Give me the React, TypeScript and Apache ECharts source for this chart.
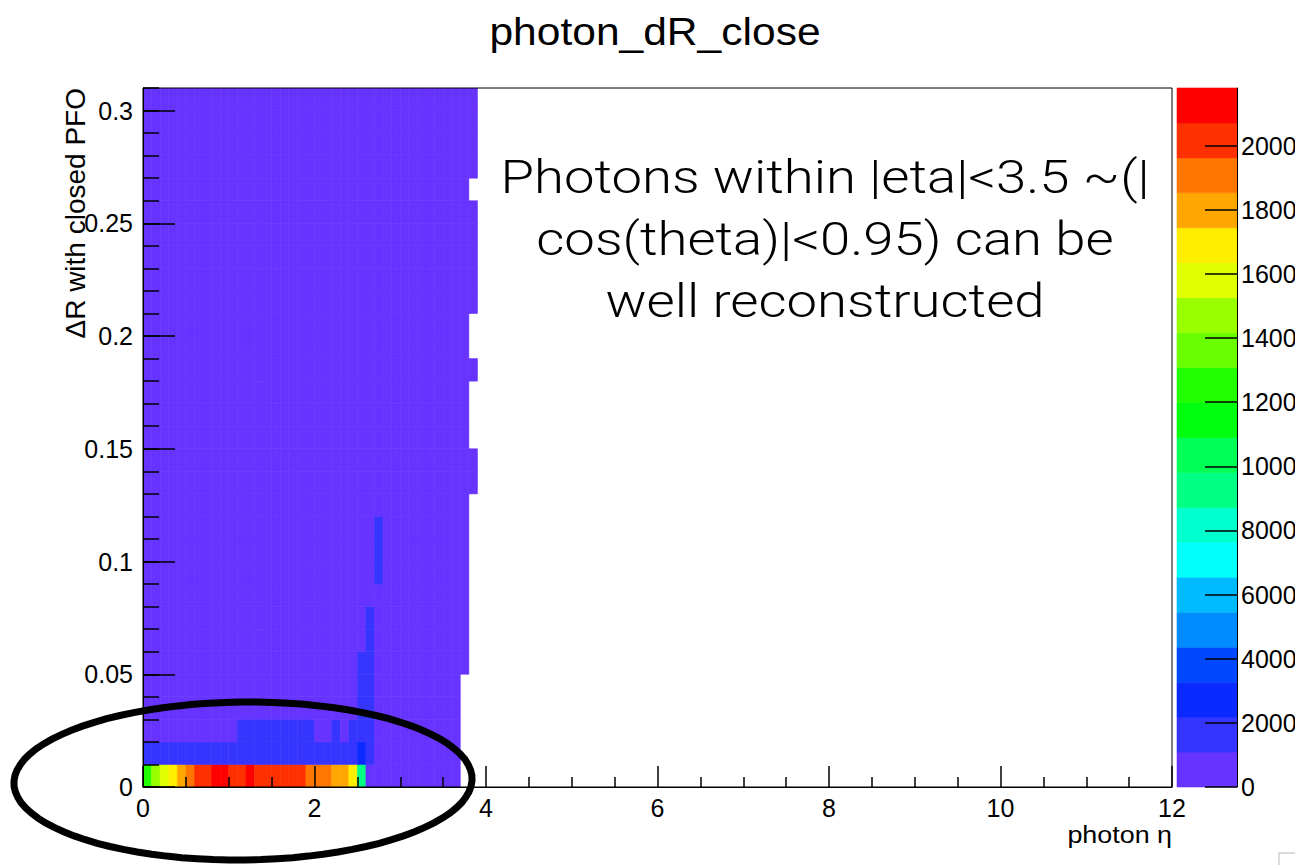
import React, { useEffect, useRef } from "react";
import * as echarts from "echarts";

// ---------------- data ----------------
const etaBinWidth = 0.1;
const dRBinWidth = 0.01;
const etaMax = 12;
const dRMax = 0.31;
const zMax = 21800;
const nContours = 20;

const xTickLabels = [0, 2, 4, 6, 8, 10, 12];
const yTickLabels = [0, 0.05, 0.1, 0.15, 0.2, 0.25, 0.3];
const colorbarTicks = [0, 2000, 4000, 6000, 8000, 10000, 12000, 14000, 16000, 18000, 20000];

// number of filled eta bins in each ΔR row (row 0 = 0–0.01 ... row 30 = 0.30–0.31)
const rowFilledBins = [
  37, 37, 37, 37, 37, 38, 38, 38, 38, 38, 38, 38, 38, 39, 39, 38,
  38, 38, 39, 38, 38, 39, 39, 39, 39, 39, 38, 39, 39, 39, 39,
];

// entries in ΔR 0–0.01, eta bins 0.0–0.1, 0.1–0.2, ...
const row0Counts = [
  12600, 14800, 15900, 16900, 17900, 19100, 20300, 20200, 21500, 21800,
  20500, 20600, 20700, 20600, 20500, 20400, 20300, 20200, 20000, 19400,
  19200, 18900, 18300, 17700, 16700, 9500,
];
// entries in ΔR 0.01–0.02
const row1Counts = [
  1500, 1600, 1700, 1700, 1800, 1800, 1900, 1900, 1900, 1900, 1900, 1900,
  1900, 1800, 1800, 1800, 1800, 1700, 1700, 1600, 1500, 1500, 1400, 1400,
  1300, 2900, 1200,
];
// entries in ΔR 0.02–0.03
const row2Counts = [
  700, 750, 800, 850, 900, 950, 1000, 1000, 1020, 1040, 1060, 1120, 1150,
  1180, 1200, 1200, 1180, 1150, 1120, 1100, 1050, 1070, 1110, 1060, 1130,
  1250, 1150,
];
// small columns of slightly higher entries near eta 2.5–2.8
const raisedColumns = [
  { etaBin: 25, firstRow: 3, counts: [1300, 1200, 1150] },
  { etaBin: 26, firstRow: 3, counts: [1250, 1200, 1150, 1120, 1100] },
  { etaBin: 27, firstRow: 9, counts: [1100, 1120, 1100] },
];
// every other filled cell holds a low count (lowest colour band)
const lowCount = 400;

// ---------------- style ----------------
const palette = [
  "#6633ff", "#3535ff", "#0a2aff", "#0048ff", "#008cff",
  "#00bbff", "#00fffc", "#00ffcc", "#00ff85", "#00ff55",
  "#00ff0e", "#22ff00", "#69ff00", "#99ff00", "#e0ff00",
  "#ffee00", "#ffa700", "#ff7700", "#ff3000", "#ff0000",
];

function buildCells(): number[][] {
  const rows: number[][] = rowFilledBins.map((n) => new Array(n).fill(lowCount));
  row0Counts.forEach((c, i) => (rows[0][i] = c));
  row1Counts.forEach((c, i) => (rows[1][i] = c));
  row2Counts.forEach((c, i) => (rows[2][i] = c));
  raisedColumns.forEach((col) =>
    col.counts.forEach((c, k) => (rows[col.firstRow + k][col.etaBin] = c))
  );
  const cells: number[][] = [];
  rows.forEach((row, r) =>
    row.forEach((c, b) => cells.push([b * etaBinWidth, r * dRBinWidth, c]))
  );
  return cells;
}

function bandOf(v: number) {
  return Math.max(0, Math.min(nContours - 1, Math.floor(0.01 + (v * nContours) / zMax)));
}

const FONT = "Liberation Sans";

export default function App() {
  const ref = useRef<HTMLDivElement>(null);
  useEffect(() => {
    if (!ref.current) return;
    const chart = echarts.init(ref.current, null, { renderer: "svg" });
    const cells = buildCells();
    const bands = palette.map((_, i) => [(i * zMax) / nContours, ((i + 1) * zMax) / nContours, i]);

    const ellipsePts: string[] = [];
    const cx = 243, cy = 781, rx = 229, ry = 79;
    for (let i = 0; i <= 90; i++) {
      const t = (i / 90) * Math.PI * 2;
      const x = cx + rx * Math.cos(t) + 6 * Math.sin(t);
      const y = cy - ry * Math.sin(t);
      ellipsePts.push(`${i === 0 ? "M" : "L"}${x.toFixed(1)},${y.toFixed(1)}`);
    }
    echarts.graphic.registerShape(
      "sketchEllipse",
      echarts.graphic.extendPath(ellipsePts.join(" ") + " Z", {})
    );

    const tickLine = { color: "#000", width: 1.5 };

    chart.setOption({
      animation: false,
      backgroundColor: "#ffffff",
      textStyle: { fontFamily: FONT },
      grid: [
        { left: 143, top: 88, width: 1029, height: 699, show: true, borderColor: "#000", borderWidth: 1, backgroundColor: "transparent", z: 5, outerBoundsMode: "none", containLabel: false },
        { left: 1177, top: 88, width: 60, height: 699, show: false, outerBoundsMode: "none", containLabel: false },
      ],
      xAxis: [
        {
          type: "value", gridIndex: 0, position: "bottom", min: 0, max: etaMax, interval: 2, z: 6,
          axisLine: { show: true, onZero: false, lineStyle: { color: "#000", width: 1 } },
          axisTick: { show: true, inside: true, length: 21, lineStyle: tickLine, customValues: xTickLabels },
          minorTick: { show: true, splitNumber: 4, length: 10, lineStyle: tickLine },
          axisLabel: { show: true, margin: 8, fontSize: 25, color: "#000", fontFamily: FONT, customValues: xTickLabels, formatter: (v: number) => String(v) },
          splitLine: { show: false },
        },
        { type: "value", gridIndex: 1, min: 0, max: 1, show: false },
      ],
      yAxis: [
        {
          type: "value", gridIndex: 0, position: "left", offset: 0, min: 0, max: dRMax, interval: 0.05, z: 6,
          axisLine: { show: true, onZero: false, lineStyle: { color: "#000", width: 1 } },
          axisTick: { show: true, inside: true, length: 32, lineStyle: tickLine, customValues: yTickLabels },
          axisLabel: { show: true, margin: 10, fontSize: 25, color: "#000", fontFamily: FONT, customValues: yTickLabels, formatter: (v: number) => String(+v.toFixed(2)) },
          splitLine: { show: false },
        },
        {
          type: "value", gridIndex: 0, position: "left", offset: 0, min: 0, max: dRMax, interval: 0.01, z: 6,
          axisLine: { show: false, onZero: false },
          axisTick: { show: true, inside: true, length: 16, lineStyle: tickLine },
          axisLabel: { show: false },
          splitLine: { show: false },
        },
        {
          type: "value", gridIndex: 1, position: "right", offset: 0, min: 0, max: zMax, z: 6,
          axisLine: { show: true, onZero: false, lineStyle: { color: "#000", width: 1 } },
          axisTick: { show: true, inside: true, length: 32, lineStyle: tickLine, customValues: colorbarTicks },
          axisLabel: { show: true, margin: 4, fontSize: 25, color: "#000", fontFamily: FONT, customValues: colorbarTicks, formatter: (v: number) => String(v) },
          splitLine: { show: false },
        },
      ],
      series: [
        {
          type: "custom",
          xAxisIndex: 0,
          yAxisIndex: 0,
          clip: true,
          z: 2,
          data: cells,
          renderItem: (params: any, api: any) => {
            const x0 = api.value(0), y0 = api.value(1), v = api.value(2);
            const p0 = api.coord([x0, y0 + dRBinWidth]);
            const p1 = api.coord([x0 + etaBinWidth, y0]);
            const color = palette[bandOf(v)];
            return {
              type: "rect",
              shape: { x: p0[0], y: p0[1], width: p1[0] - p0[0], height: p1[1] - p0[1] },
              style: { fill: color, stroke: color, lineWidth: 0.6 },
            };
          },
        },
        {
          type: "custom",
          xAxisIndex: 1,
          yAxisIndex: 2,
          z: 2,
          data: bands,
          renderItem: (params: any, api: any) => {
            const lo = api.value(0), hi = api.value(1), i = api.value(2);
            const p0 = api.coord([0, hi]);
            const p1 = api.coord([1, lo]);
            return {
              type: "rect",
              shape: { x: p0[0], y: p0[1], width: p1[0] - p0[0], height: p1[1] - p0[1] },
              style: { fill: palette[i], stroke: palette[i], lineWidth: 0.6 },
            };
          },
        },
      ],
      graphic: [
        {
          type: "text", x: 655, y: 32, z: 20, scaleX: 1.12,
          style: { text: "photon_dR_close", fontSize: 38, fontFamily: FONT, fill: "#000", align: "center", verticalAlign: "middle" },
        },
        {
          type: "text", x: 825, y: 239, z: 20, scaleX: 1.16,
          style: {
            text: "Photons within |eta|<3.5 ~(|\ncos(theta)|<0.95) can be\nwell reconstructed",
            fontSize: 47, fontFamily: "Roboto", fontWeight: 300, lineHeight: 62,
            fill: "#000", align: "center", verticalAlign: "middle",
          },
        },
        {
          type: "text", x: 75, y: 88, rotation: Math.PI / 2, z: 20,
          style: { text: "ΔR with closed PFO", fontSize: 28, fontFamily: FONT, fill: "#000", align: "right", verticalAlign: "middle" },
        },
        {
          type: "text", x: 1172, y: 835, z: 20, scaleX: 1.12,
          style: { text: "photon η", fontSize: 24, fontFamily: FONT, fill: "#000", align: "right", verticalAlign: "middle" },
        },
        {
          type: "sketchEllipse", x: 0, y: 0, z: 30,
          style: { fill: "none", stroke: "#000", lineWidth: 7 },
        },
        {
          type: "polyline", z: 20,
          shape: { points: [[1279, 865], [1279, 853], [1295, 853]] },
          style: { stroke: "#d0d0d0", lineWidth: 1.5, fill: "none" },
        },
      ],
    });
    return () => chart.dispose();
  }, []);
  return (
    <div
      ref={ref}
      style={{ position: "fixed", left: 0, top: 0, width: 1295, height: 865, background: "#fff" }}
    />
  );
}
